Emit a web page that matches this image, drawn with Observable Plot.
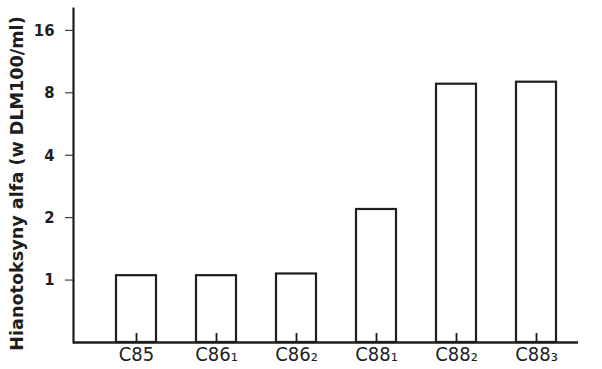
<!DOCTYPE html>
<html>
<head>
<meta charset="utf-8">
<script src="https://cdn.jsdelivr.net/npm/d3@7"></script>
<script src="https://cdn.jsdelivr.net/npm/@observablehq/plot@0.6"></script>
<style>
  html, body { margin: 0; padding: 0; background: #fff; }
  #chart { width: 602px; height: 369px; }
</style>
</head>
<body>
<div id="chart"></div>
<script>
const categories = ["C85", "C86\u2081", "C86\u2082", "C88\u2081", "C88\u2082", "C88\u2083"];
const values = [1.05, 1.05, 1.07, 2.19, 8.8, 9.0];
const yTicks = [1, 2, 4, 8, 16];
const yTitle = "Hianotoksyny alfa (w DLM100/ml)";
const baseValue = 0.5;
const topValue = 20.4;

const data = categories.map((c, i) => ({cat: c, v: values[i]}));
const ink = "#1e1e1e";

const chart = Plot.plot({
  width: 602,
  height: 369,
  marginLeft: 73,
  marginRight: 24,
  marginTop: 8,
  marginBottom: 27,
  style: {background: "#fff", color: ink},
  x: {domain: categories, paddingInner: 0.5, paddingOuter: 0.37, align: 0.66, label: null},
  y: {type: "log", base: 2, domain: [baseValue, topValue], label: null},
  marks: [
    Plot.barY(data, {x: "cat", y1: baseValue, y2: "v", fill: "#fff", stroke: ink, strokeWidth: 2.2}),
    Plot.ruleX(categories, {x: d => d, y1: baseValue, y2: baseValue, insetTop: -9, stroke: ink, strokeWidth: 1.8}),
    Plot.ruleY([baseValue], {stroke: ink, strokeWidth: 2.4}),
    Plot.frame({anchor: "left", stroke: ink, strokeWidth: 2.2}),
    Plot.axisY({ticks: yTicks, tickFormat: d => String(d), tickSize: 8, tickPadding: 11,
      fontSize: 16.5, fontWeight: "bold", fontFamily: "DejaVu Sans Condensed", label: null, stroke: ink}),
    Plot.axisX({tickSize: 0, tickPadding: 4, fontSize: 20, fontFamily: "DejaVu Sans Condensed", label: null}),
    Plot.text([yTitle], {frameAnchor: "left", rotate: -90, textAnchor: "middle", dx: -56, dy: 8,
      fontSize: 17.6, fontWeight: "bold", fontFamily: "DejaVu Sans", fill: ink})
  ]
});
document.getElementById("chart").appendChild(chart);
</script>
</body>
</html>
